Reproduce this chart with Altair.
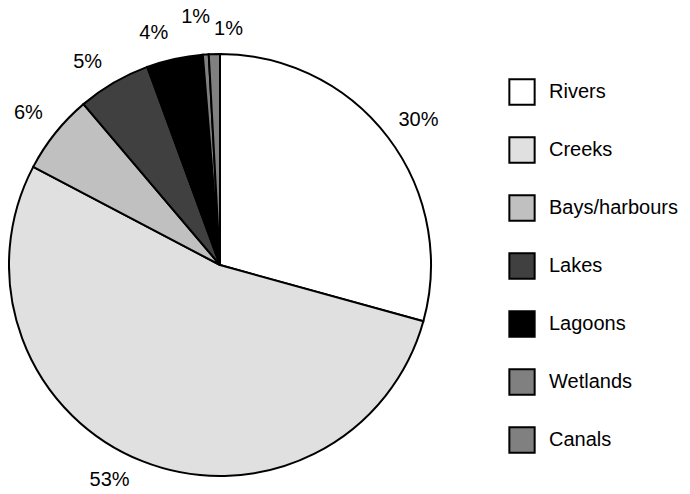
import altair as alt
import pandas as pd

categories = ["Rivers", "Creeks", "Bays/harbours", "Lakes", "Lagoons", "Wetlands", "Canals"]
values = [29.3, 53.4, 6.1, 5.6, 4.3, 0.45, 0.85]
labels = ["30%", "53%", "6%", "5%", "4%", "1%", "1%"]
colors = ["#ffffff", "#e0e0e0", "#c0c0c0", "#404040", "#000000", "#808080", "#808080"]
# per-label nudges (dx, dy) applied as mark offsets
nudges = [(5, 2), (-21, -11), (-2, 0), (-10, 7), (-14, 5), (-8, -6), (15, 7)]

df = pd.DataFrame({"cat": categories, "val": values, "label": labels, "ord": list(range(len(categories)))})

CX, CY, R = 212, 257, 211

color_scale = alt.Scale(domain=categories, range=colors)

base = alt.Chart(df).encode(
    theta=alt.Theta("val:Q", stack=True),
    order=alt.Order("ord:Q"),
)

arcs = base.mark_arc(radius=R, stroke="black", strokeWidth=2).encode(
    x=alt.value(CX),
    y=alt.value(CY),
    color=alt.Color(
        "cat:N",
        scale=color_scale,
        sort=categories,
        legend=alt.Legend(
            title=None,
            orient="none",
            legendX=500,
            legendY=70,
            symbolType="square",
            symbolSize=640,
            symbolStrokeColor="black",
            symbolStrokeWidth=2,
            labelFontSize=20,
            labelFont="Liberation Sans",
            labelColor="black",
            labelOffset=13,
            labelLimit=200,
            rowPadding=24,
        ),
    ),
)

layers = [arcs]
for i, lab in enumerate(labels):
    dx, dy = nudges[i]
    t = base.mark_text(
        radius=243, fontSize=20, font="Liberation Sans", color="black", dx=dx, dy=dy
    ).encode(
        x=alt.value(CX),
        y=alt.value(CY),
        text=alt.condition(alt.datum.ord == i, "label:N", alt.value("")),
    )
    layers.append(t)

chart = alt.layer(*layers).properties(
    width=674, height=478, autosize=alt.AutoSizeParams(type="none"), padding=0
).configure_view(stroke=None)

chart.save("out.html", embed_options={"renderer": "svg", "actions": False})
